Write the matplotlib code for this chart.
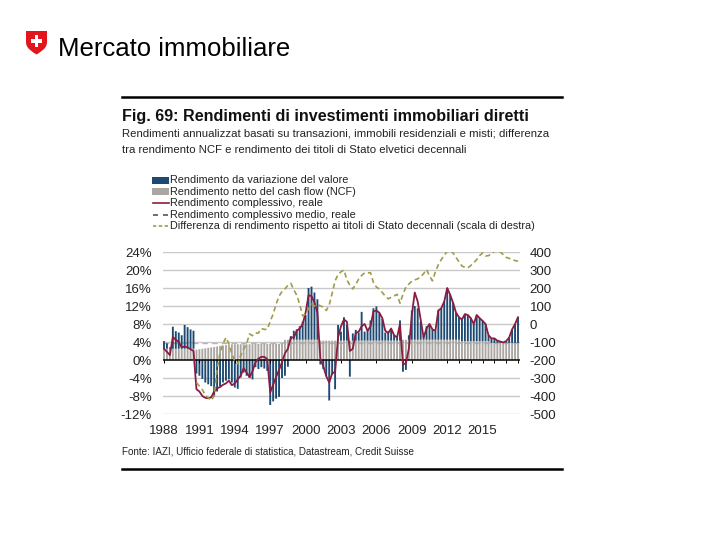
import numpy as np
import matplotlib
matplotlib.use("Agg")
import matplotlib.pyplot as plt
from matplotlib.patches import Rectangle, PathPatch
from matplotlib.path import Path
from matplotlib.lines import Line2D

plt.rcParams['font.family'] = ['Liberation Sans', 'DejaVu Sans']

# ---------------- data (quarterly, 1988Q1 .. 2018Q1) ----------------
first_year = 1988
n_quarters = 121

# Rendimento da variazione del valore (%)
value_change = [
    1.7, 1.2, 0.3, 4.9, 3.9, 3.6, 3.0, 5.3, 4.8, 4.3, 4.0,
    -3.0, -3.5, -4.2, -5.0, -5.4, -5.8, -8.0, -7.0, -5.8, -5.0,
    -4.6, -4.3, -5.0, -6.1, -6.4, -3.9, -2.8, -3.5, -4.0, -4.3,
    -1.6, -2.0, -1.6, -1.9, -2.4, -10.0, -9.2, -8.6, -8.2, -4.0,
    -3.5, -1.5, 0.8, 2.0, 2.3, 3.0, 4.0, 5.5, 11.5, 11.8,
    10.5, 9.0, -1.0, -2.0, -3.6, -9.0, -3.2, -6.5, 3.5, 2.0,
    5.2, 3.5, -3.7, 1.6, 2.4, 1.8, 6.4, 2.0, 2.4, 4.5,
    7.2, 7.6, 6.1, 4.8, 1.8, 2.0, 2.4, 1.3, 0.6, 4.5,
    -2.6, -2.2, 1.0, 6.5, 7.5, 7.0, 4.0, 0.8, 3.0, 3.3,
    2.3, 2.0, 6.5, 7.0, 8.5, 11.5, 10.0, 8.2, 6.0, 5.0,
    4.8, 6.0, 5.8, 5.1, 3.8, 5.8, 5.1, 4.5, 3.8, 1.3,
    1.0, 1.0, 0.5, 0.3, 0.1, 0.4, 1.2, 3.0, 4.2, 5.7,
]

# Rendimento netto del cash flow (NCF) (%)
ncf = [
    2.5, 2.5, 2.5, 2.5, 2.5, 2.5, 2.5, 2.5, 2.5, 2.5, 2.5,
    2.3, 2.4, 2.5, 2.6, 2.7, 2.8, 2.9, 3.0, 3.1, 3.2,
    3.3, 3.4, 3.5, 3.5, 3.5, 3.5, 3.5, 3.5, 3.5, 3.5,
    3.6, 3.6, 3.6, 3.6, 3.6, 3.6, 3.6, 3.6, 3.6, 3.6,
    4.5, 4.5, 4.5, 4.5, 4.5, 4.5, 4.5, 4.5, 4.5, 4.5,
    4.5, 4.5, 4.3, 4.3, 4.3, 4.3, 4.3, 4.3, 4.3, 4.3,
    4.3, 4.3, 4.3, 4.3, 4.3, 4.3, 4.3, 4.3, 4.3, 4.3,
    4.3, 4.3, 4.3, 4.3, 4.3, 4.3, 4.3, 4.3, 4.3, 4.3,
    4.5, 4.5, 4.5, 4.5, 4.5, 4.5, 4.5, 4.5, 4.5, 4.5,
    4.5, 4.5, 4.5, 4.5, 4.5, 4.5, 4.5, 4.5, 4.5, 4.5,
    4.2, 4.2, 4.2, 4.2, 4.2, 4.2, 4.2, 4.2, 4.2, 4.2,
    3.8, 3.8, 3.8, 3.8, 3.8, 3.8, 3.8, 3.8, 3.8, 3.8,
]

# Rendimento complessivo, reale (%)
total_real = [
    2.5, 1.8, 1.1, 5.1, 4.5, 4.0, 2.8, 3.0, 2.8, 2.4, 2.0,
    -6.5, -7.0, -8.0, -8.4, -8.5, -8.3, -7.0, -6.3, -6.0, -5.5,
    -5.2, -4.6, -5.6, -5.2, -4.3, -3.5, -1.8, -2.8, -3.8, -2.5,
    -0.5, 0.3, 0.7, 0.7, 0.2, -7.2, -5.5, -3.8, -2.2, -0.5,
    1.5, 2.5, 5.0, 5.0, 6.5, 7.0, 8.0, 10.5, 14.4, 14.2,
    12.8, 10.5, 0.3, -1.4, -3.6, -5.0, -3.0, -2.6, 5.0, 7.5,
    9.0, 8.5, 2.0, 2.5, 6.0, 6.3, 7.5, 8.0, 6.5, 7.5,
    10.8, 11.0, 10.5, 9.3, 6.5, 6.0, 7.0, 5.5, 5.0, 8.0,
    -1.0, -0.7, 2.5, 10.0, 15.0, 13.0, 9.0, 5.0, 7.0, 8.0,
    6.8, 6.5, 11.0, 11.5, 13.0, 16.0, 14.5, 12.7, 10.5, 9.5,
    9.0, 10.2, 10.0, 9.3, 8.0, 10.0, 9.3, 8.7, 8.0, 5.5,
    4.8, 4.8, 4.3, 4.1, 3.9, 4.2, 5.0, 6.8, 8.0, 9.5,
]

# Rendimento complessivo medio, reale (%)
mean_total_real = 3.7

# Differenza di rendimento rispetto ai titoli di Stato decennali (bp, scala di destra)
nan = np.nan
spread_bp = [
    nan, nan, nan, nan, nan, nan, nan, nan, nan, nan, nan,
    -325, -345, -365, -395, -410, -425, -400, -250, -160, -110,
    -75, -110, -165, -205, -222, -175, -140, -110, -55, -65,
    -50, -50, -25, -30, -30, 15, 55, 110, 155, 180,
    195, 215, 226, 190, 160, 110, 45, 55, 85, 110,
    100, 110, 100, 95, 75, 105, 170, 240, 275, 290,
    300, 245, 215, 195, 220, 250, 270, 284, 284, 285,
    230, 205, 195, 175, 155, 140, 148, 156, 165, 115,
    165, 205, 222, 238, 245, 251, 262, 280, 303, 266,
    240, 290, 330, 358, 380, 405, 410, 394, 370, 345,
    322, 315, 312, 325, 340, 358, 380, 395, 378, 380,
    390, 403, 413, 400, 385, 370, 365, 358, 352, 349,
]

left_ticks = [24, 20, 16, 12, 8, 4, 0, -4, -8, -12]
right_ticks = [400, 300, 200, 100, 0, -100, -200, -300, -400, -500]
year_ticks = [1988, 1991, 1994, 1997, 2000, 2003, 2006, 2009, 2012, 2015]

legend_labels = [
    "Rendimento da variazione del valore",
    "Rendimento netto del cash flow (NCF)",
    "Rendimento complessivo, reale",
    "Rendimento complessivo medio, reale",
    "Differenza di rendimento rispetto ai titoli di Stato decennali (scala di destra)",
]

# ---------------- styling ----------------
C_BLUE = "#1d4a72"
C_GRAY = "#aaa6a2"
C_RED = "#8b1c3f"
C_OLIVE = "#a19b4c"
C_MEAN = "#b5b5b5"
C_GRID = "#c9c9c9"
C_TXT = "#222222"

W, H = 720, 540
fig = plt.figure(figsize=(7.2, 5.4), dpi=100)


def fx(px):
    return px / W


def fy(py):
    return 1 - py / H


years = first_year + np.arange(n_quarters) / 4.0
value_change = np.array(value_change)
ncf = np.array(ncf)
total_real = np.array(total_real)
spread_bp = np.array(spread_bp, dtype=float)

# ---------------- header ----------------
shield = [
    ((26, 31), Path.MOVETO), ((47, 31), Path.LINETO), ((47, 42), Path.LINETO),
    ((47, 49), Path.CURVE4), ((40, 52), Path.CURVE4), ((36.5, 54.5), Path.CURVE4),
    ((33, 52), Path.CURVE4), ((26, 49), Path.CURVE4), ((26, 42), Path.CURVE4),
    ((26, 31), Path.CLOSEPOLY),
]
verts = [(fx(x), fy(y)) for (x, y), _ in shield]
codes = [c for _, c in shield]
fig.patches.append(PathPatch(Path(verts, codes), transform=fig.transFigure,
                             facecolor="#e2141c", edgecolor="none"))
for (x0, y0, x1, y1) in [(30.6, 38.6, 42.4, 42.6), (34.5, 34.6, 38.5, 46.6)]:
    fig.patches.append(Rectangle((fx(x0), fy(y1)), fx(x1) - fx(x0), fy(y0) - fy(y1),
                                 transform=fig.transFigure, facecolor="white",
                                 edgecolor="none"))
fig.text(fx(58), fy(49), "Mercato immobiliare", fontsize=18.5, color="black",
         ha="left", va="center")

# rules
fig.add_artist(Line2D([fx(122), fx(562)], [fy(97), fy(97)], color="black", lw=1.8,
                      transform=fig.transFigure))
fig.add_artist(Line2D([fx(122), fx(562)], [fy(469), fy(469)], color="black", lw=1.8,
                      transform=fig.transFigure))

fig.text(fx(122), fy(116.5), "Fig. 69: Rendimenti di investimenti immobiliari diretti",
         fontsize=11.6, fontweight="bold", color="#111111", ha="left", va="center")
fig.text(fx(122), fy(133.5), "Rendimenti annualizzat basati su transazioni, immobili residenziali e misti; differenza",
         fontsize=8.2, color=C_TXT, ha="left", va="center")
fig.text(fx(122), fy(150), "tra rendimento NCF e rendimento dei titoli di Stato elvetici decennali",
         fontsize=8.2, color=C_TXT, ha="left", va="center")

# legend (manual)
rows = [180, 191.6, 203.2, 214.8, 226.4]
fig.patches.append(Rectangle((fx(152), fy(rows[0] + 3.5)), fx(169) - fx(152), 7 / H,
                             transform=fig.transFigure, facecolor=C_BLUE, edgecolor="none"))
fig.patches.append(Rectangle((fx(152), fy(rows[1] + 3.5)), fx(169) - fx(152), 7 / H,
                             transform=fig.transFigure, facecolor=C_GRAY, edgecolor="none"))
fig.add_artist(Line2D([fx(153), fx(169)], [fy(rows[2]), fy(rows[2])], color=C_RED, lw=1.2,
                      transform=fig.transFigure))
fig.add_artist(Line2D([fx(153), fx(169)], [fy(rows[3]), fy(rows[3])], color="#555555", lw=1.2,
                      dashes=(3, 3), transform=fig.transFigure))
fig.add_artist(Line2D([fx(153), fx(169)], [fy(rows[4]), fy(rows[4])], color=C_OLIVE, lw=1.2,
                      dashes=(2, 1.5), transform=fig.transFigure))
for r, lab in zip(rows, legend_labels):
    fig.text(fx(170), fy(r), lab, fontsize=7.8, color=C_TXT, ha="left", va="center")

fig.text(fx(122), fy(452), "Fonte: IAZI, Ufficio federale di statistica, Datastream, Credit Suisse",
         fontsize=7.1, color=C_TXT, ha="left", va="center")

# ---------------- chart ----------------
ax = fig.add_axes([fx(163), fy(414), fx(520) - fx(163), (414 - 252) / H])
px_per_year = 11.8
x_left = first_year + (163 - 164) / px_per_year
x_right = first_year + (520 - 164) / px_per_year
ax.set_xlim(x_left, x_right)
ax.set_ylim(-12, 24)

for t in left_ticks:
    if t != 0:
        ax.axhline(t, color=C_GRID, lw=1.0, zorder=0)
ax.axhline(mean_total_real, color=C_MEAN, lw=1.0, dashes=(4, 3), zorder=1)

bw = 0.16
gray_bars = ax.bar(years, ncf, width=bw, color=C_GRAY, zorder=2, linewidth=0)
blue_bars = ax.bar(years, value_change, width=bw, bottom=np.where(value_change > 0, ncf, 0),
                   color=C_BLUE, zorder=3, linewidth=0)
for b in list(gray_bars) + list(blue_bars):
    b.set_snap(False)
ax.axhline(0, color="black", lw=1.1, zorder=4)
ax.vlines(year_ticks + [2013, 2014, 2016, 2017, 2018], 0, -0.6, color="black", lw=0.7, zorder=4)
ax.plot(years, total_real, color=C_RED, lw=1.3, zorder=5)

ax.set_yticks(left_ticks)
ax.set_yticklabels([f"{t}%" for t in left_ticks])
ax.set_xticks(year_ticks)
ax.set_xticklabels([str(y) for y in year_ticks])
ax.tick_params(axis="both", length=0, labelsize=9.5, colors=C_TXT)
ax.tick_params(axis="y", pad=8)
ax.tick_params(axis="x", pad=8)
for s in ax.spines.values():
    s.set_visible(False)
ax.patch.set_alpha(0)

ax2 = ax.twinx()
ax2.set_ylim(-500, 400)
ax2.plot(years, spread_bp, color=C_OLIVE, lw=1.2, dashes=(3, 2), zorder=6)
ax2.set_yticks(right_ticks)
ax2.set_yticklabels([str(t) for t in right_ticks])
ax2.tick_params(axis="y", length=0, labelsize=9.5, colors=C_TXT, pad=7)
for s in ax2.spines.values():
    s.set_visible(False)

fig.savefig("out.png", dpi=100, facecolor="white")
